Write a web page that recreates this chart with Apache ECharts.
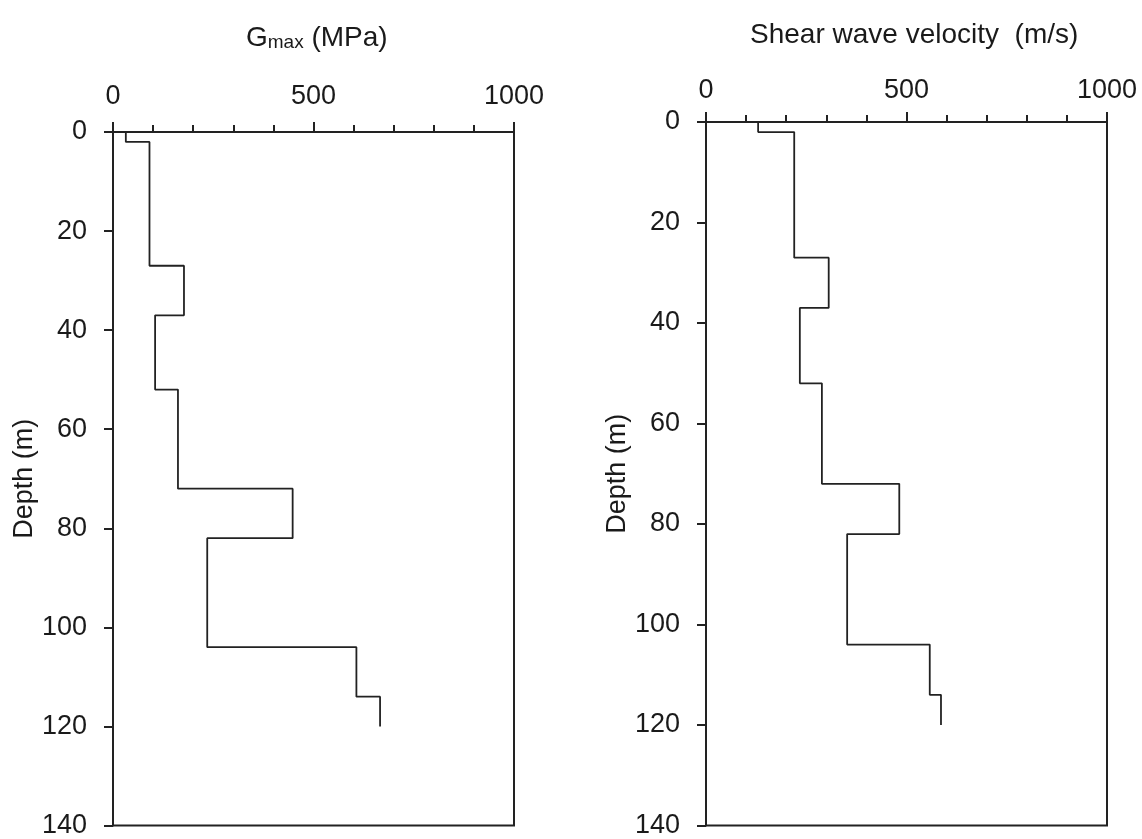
<!DOCTYPE html>
<html>
<head>
<meta charset="utf-8">
<script src="https://cdn.jsdelivr.net/npm/echarts@6/dist/echarts.min.js"></script>
<style>
html,body{margin:0;padding:0;background:#fff;}
#chart{width:1142px;height:839px;}
</style>
</head>
<body>
<div id="chart"></div>
<script>
// Layer boundaries (depth, m)
const layerDepths = [0, 2, 27, 37, 52, 72, 82, 104, 114, 120];
// Gmax per layer (MPa)
const gmaxValues = [32, 91, 177, 105, 162, 448, 235, 607, 666];
// Shear wave velocity per layer (m/s)
const vsValues = [130, 220, 306, 234, 289, 482, 352, 558, 586];
// Axis ticks
const xTickLabels = [0, 500, 1000];
const depthTicks = [0, 20, 40, 60, 80, 100, 120, 140];

function stepProfile(values) {
  const pts = [];
  for (let i = 0; i < values.length; i++) {
    pts.push([values[i], layerDepths[i]]);
    pts.push([values[i], layerDepths[i + 1]]);
  }
  return pts;
}

const FONT = '"Liberation Sans", Arial, sans-serif';
const TXT = '#1a1a1a';
const LINE = '#222';

function xAxisCfg(gridIndex, margin) {
  return {
    type: 'value', gridIndex: gridIndex, position: 'top',
    min: 0, max: 1000, interval: 500,
    axisLine: { show: true, onZero: false, lineStyle: { color: LINE, width: 2 } },
    axisTick: { show: true, inside: false, length: 10, lineStyle: { color: LINE, width: 2 } },
    minorTick: { show: true, splitNumber: 5, length: 7, lineStyle: { color: LINE, width: 2 } },
    splitLine: { show: false },
    axisLabel: {
      margin: margin, fontSize: 27, color: TXT, fontFamily: FONT,
      formatter: function (v) { return xTickLabels.indexOf(v) >= 0 ? String(v) : ''; }
    }
  };
}
function yAxisCfg(gridIndex) {
  return {
    type: 'value', gridIndex: gridIndex, inverse: true,
    min: depthTicks[0], max: depthTicks[depthTicks.length - 1], interval: 20,
    name: 'Depth (m)', nameLocation: 'middle', nameGap: 74, nameRotate: 90,
    nameTextStyle: { fontSize: 27, color: TXT, fontFamily: FONT },
    axisLine: { show: true, onZero: false, lineStyle: { color: LINE, width: 2 } },
    axisTick: { show: true, inside: false, length: 9, lineStyle: { color: LINE, width: 2 } },
    splitLine: { show: false },
    axisLabel: { margin: 26, fontSize: 27, color: TXT, fontFamily: FONT }
  };
}

const chart = echarts.init(document.getElementById('chart'), null, { renderer: 'canvas' });
chart.setOption({
  backgroundColor: '#fff',
  animation: false,
  title: [
    {
      text: '{g|G}{s|max}{g| (MPa)}',
      left: 241, top: 13,
      textStyle: {
        fontWeight: 'normal',
        rich: {
          g: { fontSize: 28, fontFamily: FONT, fontWeight: 'normal', color: TXT, lineHeight: 34, verticalAlign: 'bottom' },
          s: { fontSize: 19, fontFamily: FONT, fontWeight: 'normal', color: TXT, lineHeight: 23, verticalAlign: 'bottom' }
        }
      }
    },
    {
      text: 'Shear wave velocity  (m/s)',
      left: 745, top: 13,
      textStyle: { fontSize: 28, fontFamily: FONT, color: TXT, fontWeight: 'normal', lineHeight: 34 }
    }
  ],
  grid: [
    { left: 113, top: 132, width: 401, height: 697, show: true, borderColor: LINE, borderWidth: 2, backgroundColor: 'transparent' },
    { left: 706, top: 122, width: 401, height: 707, show: true, borderColor: LINE, borderWidth: 2, backgroundColor: 'transparent' }
  ],
  xAxis: [xAxisCfg(0, 22), xAxisCfg(1, 18)],
  yAxis: [yAxisCfg(0), yAxisCfg(1)],
  series: [
    {
      type: 'line', xAxisIndex: 0, yAxisIndex: 0,
      data: stepProfile(gmaxValues), showSymbol: false, symbol: 'none',
      lineStyle: { color: LINE, width: 1.8 }
    },
    {
      type: 'line', xAxisIndex: 1, yAxisIndex: 1,
      data: stepProfile(vsValues), showSymbol: false, symbol: 'none',
      lineStyle: { color: LINE, width: 1.8 }
    }
  ]
});
</script>
</body>
</html>
